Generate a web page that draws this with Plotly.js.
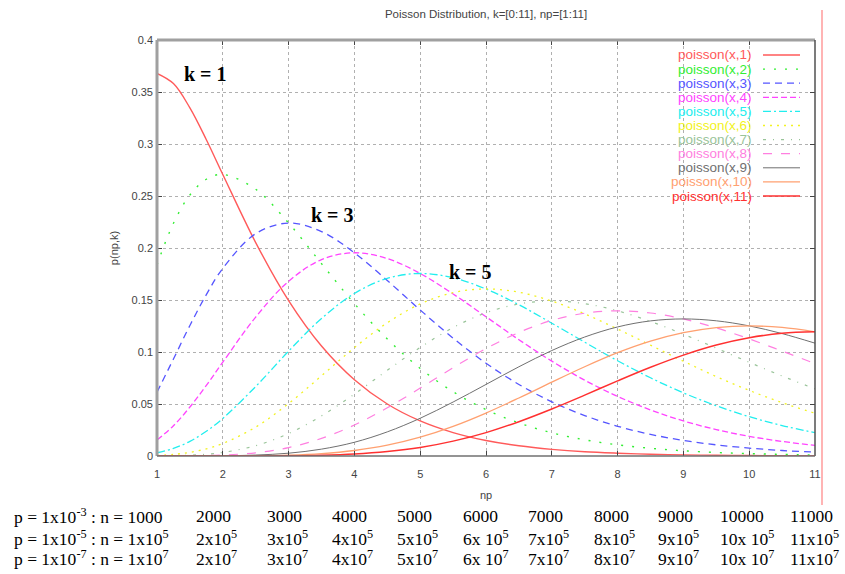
<!DOCTYPE html>
<html>
<head>
<meta charset="utf-8">
<script src="https://cdn.plot.ly/plotly-3.0.1.min.js"></script>
<style>html,body{margin:0;padding:0;background:#fff;}#chart{width:845px;height:574px;}</style>
</head>
<body>
<div id="chart"></div>
<script>
// np values (x axis)
const np = [1,1.25,1.5,1.75,2,2.5,3,3.5,4,4.5,5,5.5,6,6.5,7,7.5,8,8.5,9,9.5,10,10.5,11];
// p(np,k), one array per k
const k1  = [0.3679,0.3581,0.3347,0.3041,0.2707,0.2052,0.1494,0.1057,0.0733,0.0500,0.0337,0.0225,0.0149,0.0098,0.0064,0.0041,0.0027,0.0017,0.0011,0.0007,0.0005,0.0003,0.0002];
const k2  = [0.1839,0.2238,0.2510,0.2661,0.2707,0.2565,0.2240,0.1850,0.1465,0.1125,0.0842,0.0618,0.0446,0.0318,0.0223,0.0156,0.0107,0.0074,0.0050,0.0034,0.0023,0.0015,0.0010];
const k3  = [0.0613,0.0933,0.1255,0.1552,0.1804,0.2138,0.2240,0.2158,0.1954,0.1687,0.1404,0.1133,0.0892,0.0688,0.0521,0.0389,0.0286,0.0208,0.0150,0.0107,0.0076,0.0053,0.0037];
const k4  = [0.0153,0.0291,0.0471,0.0679,0.0902,0.1336,0.1680,0.1888,0.1954,0.1898,0.1755,0.1558,0.1339,0.1118,0.0912,0.0729,0.0573,0.0443,0.0337,0.0254,0.0189,0.0140,0.0102];
const k5  = [0.0031,0.0073,0.0141,0.0238,0.0361,0.0668,0.1008,0.1322,0.1563,0.1708,0.1755,0.1714,0.1606,0.1454,0.1277,0.1094,0.0916,0.0752,0.0607,0.0483,0.0378,0.0293,0.0224];
const k6  = [0.0005,0.0015,0.0035,0.0069,0.0120,0.0278,0.0504,0.0771,0.1042,0.1281,0.1462,0.1571,0.1606,0.1575,0.1490,0.1367,0.1221,0.1066,0.0911,0.0764,0.0631,0.0513,0.0411];
const k7  = [0.0001,0.0003,0.0008,0.0017,0.0034,0.0099,0.0216,0.0386,0.0595,0.0824,0.1044,0.1235,0.1377,0.1462,0.1490,0.1465,0.1396,0.1294,0.1171,0.1037,0.0901,0.0769,0.0646];
const k8  = [0.0000,0.0000,0.0001,0.0004,0.0009,0.0031,0.0081,0.0169,0.0298,0.0463,0.0653,0.0849,0.1033,0.1188,0.1304,0.1373,0.1396,0.1375,0.1318,0.1232,0.1126,0.1009,0.0888];
const k9  = [0.0000,0.0000,0.0000,0.0001,0.0002,0.0009,0.0027,0.0066,0.0132,0.0232,0.0363,0.0519,0.0688,0.0858,0.1014,0.1144,0.1241,0.1299,0.1318,0.1300,0.1251,0.1177,0.1085];
const k10 = [0.0000,0.0000,0.0000,0.0000,0.0000,0.0002,0.0008,0.0023,0.0053,0.0104,0.0181,0.0285,0.0413,0.0558,0.0710,0.0858,0.0993,0.1104,0.1186,0.1235,0.1251,0.1236,0.1194];
const k11 = [0.0000,0.0000,0.0000,0.0000,0.0000,0.0000,0.0002,0.0007,0.0019,0.0043,0.0082,0.0143,0.0225,0.0330,0.0452,0.0585,0.0722,0.0853,0.0970,0.1067,0.1137,0.1180,0.1194];

const seriesNames = ["poisson(x,1)","poisson(x,2)","poisson(x,3)","poisson(x,4)","poisson(x,5)","poisson(x,6)","poisson(x,7)","poisson(x,8)","poisson(x,9)","poisson(x,10)","poisson(x,11)"];
const seriesData = [k1,k2,k3,k4,k5,k6,k7,k8,k9,k10,k11];
const colors = ["#ff5a5a","#33ee33","#5555ff","#ff44ff","#22eeee","#f2f222","#99c499","#ff7fe0","#707070","#ffa070","#ff3030"];
const dashes = ["solid","2px,9px","7px,5px","6px,3px","8px,3px,2px,3px","2px,5px","3px,7px,1px,7px","9px,9px","solid","solid","solid"];
const widths = [1.4,1.4,1.3,1.3,1.3,1.3,1.2,1.2,1.0,1.3,1.5];

const xTicks = [1,2,3,4,5,6,7,8,9,10,11];
const yTicks = [0,0.05,0.1,0.15,0.2,0.25,0.3,0.35,0.4];
const yTickText = ["0","0.05","0.1","0.15","0.2","0.25","0.3","0.35","0.4"];

const kLabels = ["k = 1","k = 3","k = 5"];
const kLabelX = [1.73,3.67,5.76];
const kLabelY = [0.367,0.232,0.177];

const rowPrefix = ["p = 1x10<sup>-3</sup> : n = ","p = 1x10<sup>-5</sup> : n = ","p = 1x10<sup>-7</sup> : n = "];
const row1 = ["1000","2000","3000","4000","5000","6000","7000","8000","9000","10000","11000"];
const row2 = ["1x10<sup>5</sup>","2x10<sup>5</sup>","3x10<sup>5</sup>","4x10<sup>5</sup>","5x10<sup>5</sup>","6x 10<sup>5</sup>","7x10<sup>5</sup>","8x10<sup>5</sup>","9x10<sup>5</sup>","10x 10<sup>5</sup>","11x10<sup>5</sup>"];
const row3 = ["1x10<sup>7</sup>","2x10<sup>7</sup>","3x10<sup>7</sup>","4x10<sup>7</sup>","5x10<sup>7</sup>","6x 10<sup>7</sup>","7x10<sup>7</sup>","8x10<sup>7</sup>","9x10<sup>7</sup>","10x 10<sup>7</sup>","11x10<sup>7</sup>"];

// plot geometry (px) for paper conversions
const L = 157, R = 815, T = 40, B = 456;
const px2x = p => (p - L) / (R - L);
const px2y = p => (B - p) / (B - T);

const traces = seriesData.map((d, i) => ({
  x: np, y: d, type: 'scatter', mode: 'lines', name: seriesNames[i],
  line: {color: colors[i], dash: dashes[i], width: widths[i], shape: 'spline', smoothing: 1},
  showlegend: false, hoverinfo: 'skip'
}));

const annotations = [];
const shapes = [];

// k labels
kLabels.forEach((t, i) => annotations.push({
  x: kLabelX[i], y: kLabelY[i], xref: 'x', yref: 'y', text: '<b>' + t + '</b>', showarrow: false,
  font: {family: 'Liberation Serif, Times New Roman, serif', size: 20, color: '#000'}
}));

// legend (gnuplot style: right-aligned text, then sample)
seriesNames.forEach((n, i) => {
  const py = 55 + 14.1 * i;
  annotations.push({
    x: px2x(754), y: px2y(py), xref: 'paper', yref: 'paper', xanchor: 'right', yanchor: 'middle',
    text: n, showarrow: false, font: {family: 'Liberation Sans, Arial, sans-serif', size: 13.5, color: colors[i]}
  });
  shapes.push({
    type: 'line', xref: 'paper', yref: 'paper', x0: px2x(763), x1: px2x(800), y0: px2y(py), y1: px2y(py),
    line: {color: colors[i], dash: dashes[i], width: widths[i]}
  });
});

// bottom rows
const colStart = [12,194,265,330,395,461,526,592,656,718,788];
const rowY = [516, 537.5, 558];
[row1,row2,row3].forEach((row, r) => {
  row.forEach((t, c) => {
    annotations.push({
      x: px2x(colStart[c]), y: px2y(rowY[r]), xref: 'paper', yref: 'paper', xanchor: 'left', yanchor: 'middle',
      text: (c === 0 ? rowPrefix[r] : '') + t, showarrow: false,
      font: {family: 'Liberation Serif, Times New Roman, serif', size: 17.5, color: '#000'}
    });
  });
});

// pink vertical line at right
shapes.push({type: 'line', xref: 'paper', yref: 'paper', x0: px2x(822), x1: px2x(822), y0: px2y(10), y1: px2y(505),
  line: {color: '#ffb4b4', width: 2}});
// frame: gray top/left, dark right/bottom
shapes.push({type: 'line', xref: 'paper', yref: 'paper', x0: 0, x1: 1, y0: 1, y1: 1, line: {color: '#a0a0a0', width: 3}});
shapes.push({type: 'line', xref: 'paper', yref: 'paper', x0: 0, x1: 0, y0: 0, y1: 1, line: {color: '#a0a0a0', width: 3}});
shapes.push({type: 'line', xref: 'paper', yref: 'paper', x0: 1, x1: 1, y0: 0, y1: 1, line: {color: '#505050', width: 1.5}});
shapes.push({type: 'line', xref: 'paper', yref: 'paper', x0: 0, x1: 1, y0: 0, y1: 0, line: {color: '#707070', width: 1.5}});

const tickFont = {family: 'Liberation Sans, Arial, sans-serif', size: 11, color: '#444'};

const layout = {
  width: 845, height: 574,
  margin: {l: L, r: 845 - R, t: T, b: 574 - B},
  paper_bgcolor: '#fff', plot_bgcolor: '#fff',
  title: {text: 'Poisson Distribution, k=[0:11], np=[1:11]', x: 486 / 845, xanchor: 'center', y: 1 - 14 / 574, yanchor: 'middle',
    font: {family: 'Liberation Sans, Arial, sans-serif', size: 11.5, color: '#444'}},
  xaxis: {range: [1, 11], tickvals: xTicks, ticktext: xTicks.map(String), ticks: 'inside', ticklen: 5, tickcolor: '#444',
    showgrid: true, gridcolor: '#b0b0b0', griddash: 'dot', gridwidth: 1, zeroline: false, showline: false, mirror: 'ticks',
    ticklabelstandoff: 10,
    tickfont: tickFont, title: {text: 'np', font: tickFont, standoff: 12}},
  yaxis: {range: [0, 0.4], tickvals: yTicks, ticktext: yTickText, ticks: 'inside', ticklen: 5, tickcolor: '#444',
    showgrid: true, gridcolor: '#b0b0b0', griddash: 'dot', gridwidth: 1, zeroline: false, showline: false, mirror: 'ticks',
    ticklabelstandoff: 3,
    tickfont: tickFont, title: {text: 'p(np,k)', font: tickFont, standoff: 10}},
  annotations: annotations, shapes: shapes, showlegend: false
};

Plotly.newPlot('chart', traces, layout, {displayModeBar: false, staticPlot: true});
</script>
</body>
</html>
